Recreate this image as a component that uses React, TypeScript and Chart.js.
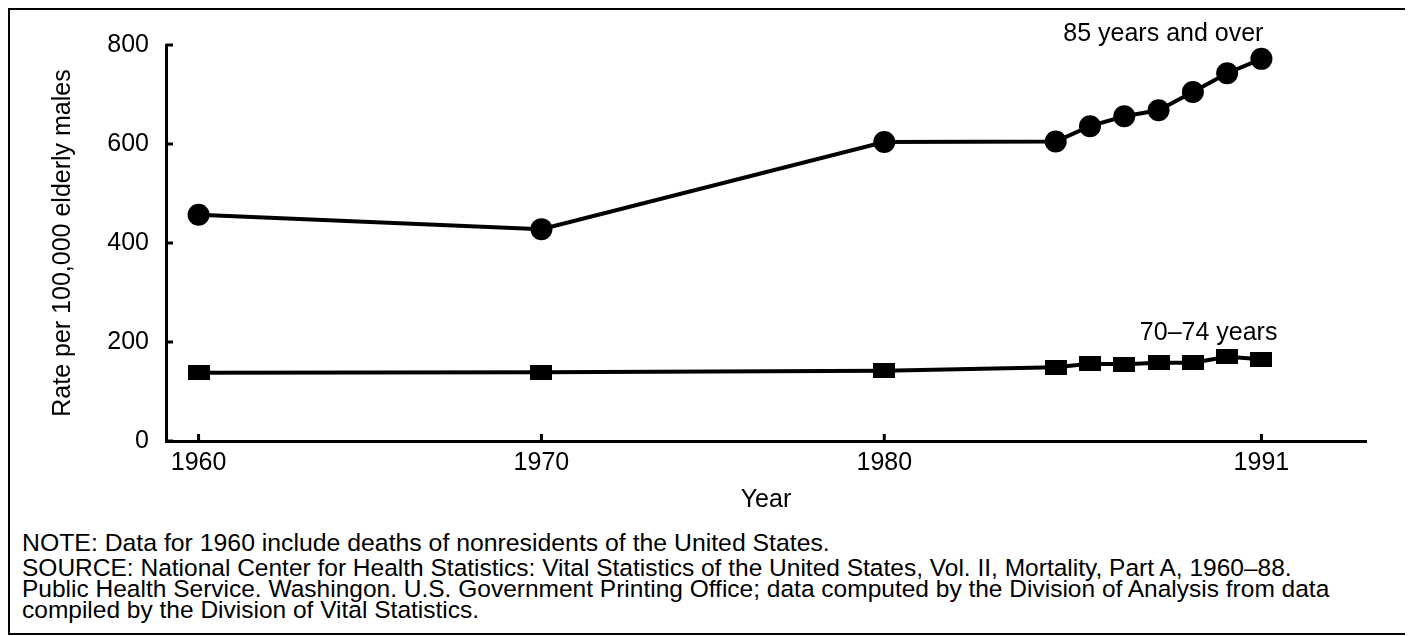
import React, { useEffect, useRef } from "react";
import { Chart, registerables } from "chart.js";

Chart.register(...registerables);

const FONT = "'Liberation Sans', Arial, Helvetica, sans-serif";

const years = [1960, 1970, 1980, 1985, 1986, 1987, 1988, 1989, 1990, 1991];
const rate85Over = [457, 428, 604, 605, 636, 656, 668, 705, 743, 772];
const rate70to74 = [138, 139, 142, 149, 156, 155, 158, 158, 170, 165];
const xTickValues = [1960, 1970, 1980, 1991];
const yTickValues = [0, 200, 400, 600, 800];
const seriesLabels = ["85 years and over", "70\u201374 years"];
const xTitle = "Year";
const yTitle = "Rate per 100,000 elderly males";
const noteLine = "NOTE: Data for 1960 include deaths of nonresidents of the United States.";
const sourceLines = [
  "SOURCE: National Center for Health Statistics: Vital Statistics of the United States, Vol. II, Mortality, Part A, 1960\u201388.",
  "Public Health Service. Washingon. U.S. Government Printing Office; data computed by the Division of Analysis from data",
  "compiled by the Division of Vital Statistics.",
];

const insideTicks = {
  id: "insideTicks",
  afterDatasetsDraw(chart: any) {
    const { ctx, chartArea, scales } = chart;
    ctx.save();
    ctx.strokeStyle = "#000";
    ctx.lineWidth = 3;
    yTickValues.forEach((v) => {
      const y = scales.y.getPixelForValue(v);
      ctx.beginPath();
      ctx.moveTo(chartArea.left, y);
      ctx.lineTo(chartArea.left + 7, y);
      ctx.stroke();
    });
    xTickValues.forEach((v) => {
      const x = scales.x.getPixelForValue(v);
      ctx.beginPath();
      ctx.moveTo(x, chartArea.bottom);
      ctx.lineTo(x, chartArea.bottom - 7);
      ctx.stroke();
    });
    ctx.fillStyle = "#000";
    ctx.font = `25px ${FONT}`;
    ctx.textAlign = "right";
    ctx.textBaseline = "middle";
    const lastYear = years[years.length - 1];
    const xl = scales.x.getPixelForValue(lastYear);
    ctx.fillText(seriesLabels[0], xl + 2, scales.y.getPixelForValue(rate85Over[rate85Over.length - 1]) - 25);
    ctx.fillText(seriesLabels[1], xl + 16, scales.y.getPixelForValue(rate70to74[rate70to74.length - 1]) - 26);
    ctx.restore();
  },
};

export default function App() {
  const ref = useRef<HTMLCanvasElement | null>(null);

  useEffect(() => {
    if (!ref.current) return;
    const rectMarker = document.createElement("canvas");
    rectMarker.width = 22;
    rectMarker.height = 15;
    const mctx = rectMarker.getContext("2d")!;
    mctx.fillStyle = "#000";
    mctx.fillRect(0, 0, 22, 15);

    const chart = new Chart(ref.current, {
      type: "line",
      data: {
        datasets: [
          {
            label: seriesLabels[0],
            data: years.map((x, i) => ({ x, y: rate85Over[i] })),
            borderColor: "#000",
            backgroundColor: "#000",
            borderWidth: 4,
            pointStyle: "circle",
            pointRadius: 11,
            pointBorderWidth: 0,
            tension: 0,
          },
          {
            label: seriesLabels[1],
            data: years.map((x, i) => ({ x, y: rate70to74[i] })),
            borderColor: "#000",
            backgroundColor: "#000",
            borderWidth: 4,
            pointStyle: rectMarker as any,
            pointRadius: 11,
            tension: 0,
          },
        ],
      },
      options: {
        animation: false,
        responsive: true,
        maintainAspectRatio: false,
        layout: { padding: { left: 0, right: 39, top: 35, bottom: 0 } },
        plugins: { legend: { display: false }, tooltip: { enabled: false } },
        events: [],
        scales: {
          x: {
            type: "linear",
            min: 1959.05,
            max: 1994.05,
            afterBuildTicks: (scale: any) => {
              scale.ticks = xTickValues.map((value) => ({ value }));
            },
            afterFit: (scale: any) => {
              scale.height = 74;
            },
            grid: { display: false, drawTicks: false },
            border: { display: true, color: "#000", width: 3 },
            ticks: {
              padding: 7,
              color: "#000",
              font: { size: 25, family: FONT },
              maxRotation: 0,
              autoSkip: false,
              callback: (v: any) => String(v),
            },
            title: {
              display: true,
              text: xTitle,
              color: "#000",
              font: { size: 25, family: FONT },
              padding: { top: 4, bottom: 0 },
            },
          },
          y: {
            type: "linear",
            min: 0,
            max: 800,
            afterBuildTicks: (scale: any) => {
              scale.ticks = yTickValues.map((value) => ({ value }));
            },
            afterFit: (scale: any) => {
              scale.width = 156;
            },
            grid: { display: false, drawTicks: false },
            border: { display: true, color: "#000", width: 3 },
            ticks: {
              padding: 17,
              color: "#000",
              font: { size: 25, family: FONT },
              callback: (v: any) => String(v),
            },
            title: {
              display: true,
              text: yTitle,
              color: "#000",
              font: { size: 25, family: FONT },
              padding: { top: 38, bottom: 0 },
            },
          },
        },
      },
      plugins: [insideTicks],
    });
    return () => chart.destroy();
  }, []);

  return (
    <div
      style={{
        position: "relative",
        width: 1395,
        height: 623,
        border: "2px solid #000",
        fontFamily: FONT,
        color: "#000",
      }}
    >
      <div style={{ position: "absolute", left: 0, top: 0, width: 1395, height: 505 }}>
        <canvas ref={ref} />
      </div>
      <div
        style={{
          position: "absolute",
          left: 12,
          top: 520,
          fontSize: 24.8,
          lineHeight: "25px",
          whiteSpace: "nowrap",
        }}
      >
        {noteLine}
      </div>
      <div
        style={{
          position: "absolute",
          left: 12,
          top: 547,
          fontSize: 24.5,
          lineHeight: "21px",
          whiteSpace: "nowrap",
        }}
      >
        {sourceLines.map((l, i) => (
          <div key={i}>{l}</div>
        ))}
      </div>
    </div>
  );
}
